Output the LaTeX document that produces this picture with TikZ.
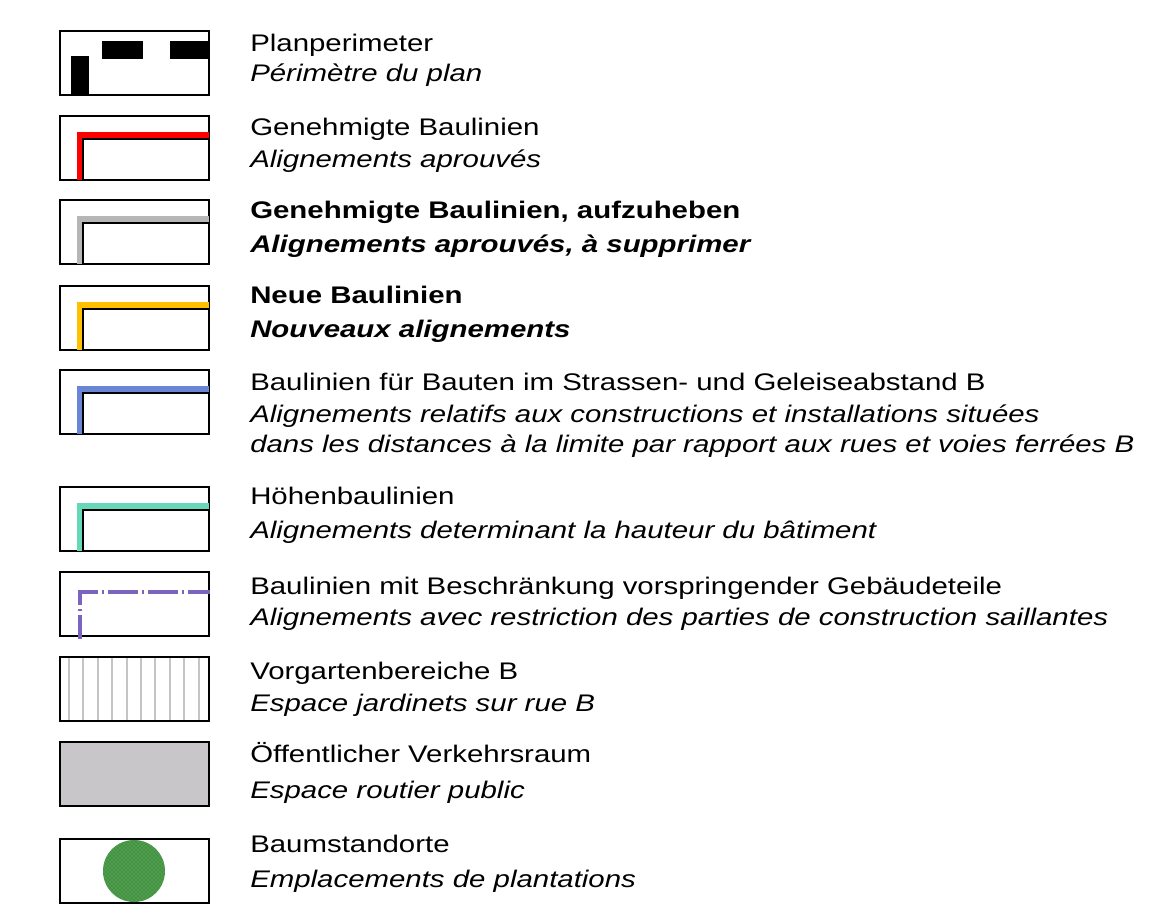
\documentclass[tikz,border=0pt]{standalone}
\usepackage{fontspec}
\setmainfont{Liberation Sans}[FakeStretch=1.225]
\usetikzlibrary{patterns}

\definecolor{baured}{RGB}{255,0,0}
\definecolor{baugray}{RGB}{182,182,182}
\definecolor{bauorange}{RGB}{255,192,0}
\definecolor{baublue}{RGB}{106,133,214}
\definecolor{bauturq}{RGB}{102,216,184}
\definecolor{baupurple}{RGB}{122,100,190}
\definecolor{hatchgray}{RGB}{196,196,196}
\definecolor{roadgray}{RGB}{200,198,200}
\definecolor{treegreen}{RGB}{66,146,66}
\definecolor{treelight}{RGB}{130,195,130}

\begin{document}
\begin{tikzpicture}
	[x=0.75pt,y=-0.75pt,
	frame/.style={draw=black,line width=1.5pt},
	inner/.style={draw=black,line width=1.5pt},
	baul/.style={line width=4pt},
	de/.style={anchor=base west,inner sep=0pt,font=\fontsize{18}{22}\selectfont},
	deb/.style={de,font=\fontsize{18}{22}\selectfont\bfseries},
	fr/.style={de,font=\fontsize{18}{22}\selectfont\itshape},
	frb/.style={de,font=\fontsize{18}{22}\selectfont\bfseries\itshape}]
	\useasboundingbox (0,0) rectangle (1172,916);

	% fills under the frames
	\fill[roadgray] (60,742) rectangle (209,806);
	\foreach \x in {0,...,9}
		\draw[hatchgray,line width=1.5pt] (69+14.4*\x,657) -- (69+14.4*\x,721);

	% legend frames
	\foreach \t in {31,116,200,286,370,487,572,657,742,839}
		\draw[frame] (60,\t) rectangle (209,\t+64);

	% Planperimeter
	\fill (71,56) rectangle (89,95);
	\fill (102,41) rectangle (143,59);
	\fill (170,41) rectangle (209,59);

	% Baulinien
	\foreach \t/\c in {116/baured,200/baugray,286/bauorange,370/baublue,487/bauturq}{
		\draw[baul,\c] (79.5,\t+64) |- (209,\t+19);
		\draw[inner] (83.3,\t+64) |- (209,\t+22.7);
	}

	% vorspringende Gebaeudeteile
	\draw[baupurple,line width=3.5pt,dash pattern=on 22.5pt off 3pt on 1.5pt off 3pt,dash phase=7.5pt]
		(78,592) -- (210,592);
	\draw[baupurple,line width=3.5pt,dash pattern=on 22.5pt off 3pt on 1.5pt off 3pt,dash phase=11.25pt]
		(80,590) -- (80,639);

	% Baumstandorte
	\fill[treegreen] (134,871) circle (31);
	\fill[pattern=crosshatch dots,pattern color=treelight] (134,871) circle (31);

	% texts
	\node[de] (t1a) at (250,52) {Planperimeter};
	\node[fr] (t1b) at (250,82) {Périmètre du plan};
	\node[de] (t2a) at (250,136) {Genehmigte Baulinien};
	\node[fr] (t2b) at (250,168) {Alignements aprouvés};
	\node[deb] (t3a) at (250,219) {Genehmigte Baulinien, aufzuheben};
	\node[frb] (t3b) at (250,253) {Alignements aprouvés, à supprimer};
	\node[deb] (t4a) at (250,304) {Neue Baulinien};
	\node[frb] (t4b) at (250,338) {Nouveaux alignements};
	\node[de] (t5a) at (250,391) {Baulinien für Bauten im Strassen- und Geleiseabstand B};
	\node[fr] (t5b) at (250,422) {Alignements relatifs aux constructions et installations situées};
	\node[fr] (t5c) at (250,453) {dans les distances à la limite par rapport aux rues et voies ferrées B};
	\node[de] (t6a) at (250,504) {Höhenbaulinien};
	\node[fr] (t6b) at (250,538) {Alignements determinant la hauteur du bâtiment};
	\node[de] (t7a) at (250,594) {Baulinien mit Beschränkung vorspringender Gebäudeteile};
	\node[fr] (t7b) at (250,625) {Alignements avec restriction des parties de construction saillantes};
	\node[de] (t8a) at (250,679) {Vorgartenbereiche B};
	\node[fr] (t8b) at (250,711) {Espace jardinets sur rue B};
	\node[de] (t9a) at (250,762) {Öffentlicher Verkehrsraum};
	\node[fr] (t9b) at (250,798) {Espace routier public};
	\node[de] (t10a) at (250,852) {Baumstandorte};
	\node[fr] (t10b) at (250,887) {Emplacements de plantations};
\end{tikzpicture}
\end{document}
